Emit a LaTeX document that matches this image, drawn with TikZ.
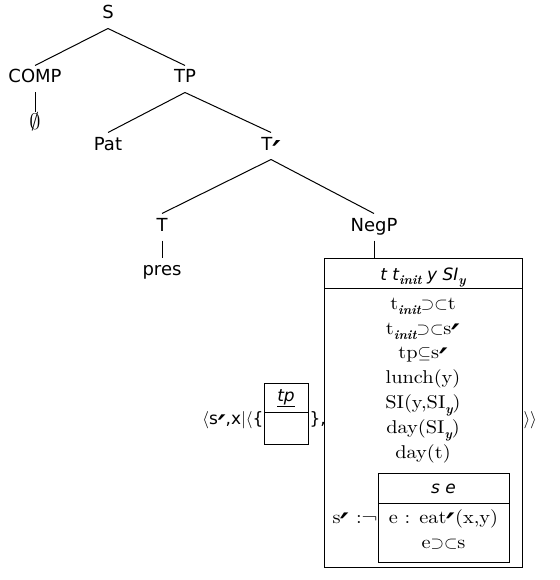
\documentclass[tikz,border=0pt]{standalone}
\usepackage{fontspec}
\usepackage{graphicx}
\setsansfont{DejaVu Sans}
\newfontfamily\drsfont{lmroman10-regular.otf}[FakeStretch=1.1]
\newcommand\pr{\raisebox{-0.74em}[0.55em][0pt]{\scalebox{1.75}{\sffamily\bfseries\itshape ′}}}
\newcommand\sbs[1]{\raisebox{-0.28em}[0.5em][0pt]{\fontsize{13}{13}\rmfamily\bfseries\itshape\selectfont #1}}
\begin{document}
\begin{tikzpicture}[x=1pt,y=-1pt,line width=1pt,
  tn/.style={font=\sffamily\fontsize{18}{20}\selectfont, anchor=base, inner sep=0pt, text height=17pt, text depth=9pt},
  cond/.style={font=\drsfont\fontsize{18.5}{20}\selectfont, anchor=base, inner sep=0pt},
  hdr/.style={font=\sffamily\itshape\fontsize{17}{20}\selectfont, anchor=base, inner sep=0pt},
  side/.style={font=\sffamily\fontsize{17}{20}\selectfont, inner sep=0pt},
  box/.style={draw, anchor=north west, inner sep=0pt}]
\useasboundingbox (0,0) rectangle (559,580);
% tree
\node[tn] (S) at (108,19) {S};
\node[tn] (COMP) at (35,83) {COMP};
\node[tn] (TP) at (185,83) {TP};
\node[tn] (empty) at (35,130) {\scalebox{1.3}{$\emptyset$}};
\node[tn] (Pat) at (108,150) {Pat};
\node[tn] (Tb) at (271,150) {T\pr};
\node[tn] (T) at (162,231) {T};
\node[tn] (pres) at (162,275) {pres};
\node[tn] (NegP) at (374,231) {NegP};
\draw (S.south) -- (COMP.north);
\draw (S.south) -- (TP.north);
\draw (COMP.south) -- (empty.north);
\draw (TP.south) -- (Pat.north);
\draw (TP.south) -- (Tb.north);
\draw (Tb.south) -- (T.north);
\draw (Tb.south) -- (NegP.north);
\draw (T.south) -- (pres.north);
% main DRS
\node[box, minimum width=198pt, minimum height=309pt] (drs) at (324,258) {};
\draw (NegP.south) -- (NegP.south |- drs.north);
\coordinate (drsSep) at (0,288);
\draw (drs.west |- drsSep) -- (drs.east |- drsSep);
\node[hdr] (drsH) at (423,280) {t t\sbs{init} y SI\sbs{y}};
\node[cond] (c1) at (423,309) {t\sbs{init}$\supset\subset$t};
\node[cond] (c2) at (423,334) {t\sbs{init}$\supset\subset$s\pr};
\node[cond] (c3) at (423,358) {tp$\subseteq$s\pr};
\node[cond] (c4) at (423,383) {lunch(y)};
\node[cond] (c5) at (423,408) {SI(y,SI\sbs{y})};
\node[cond] (c6) at (423,433) {day(SI\sbs{y})};
\node[cond] (c7) at (423,458) {day(t)};
% inner DRS
\node[box, minimum width=131pt, minimum height=89pt] (inner) at (378,473) {};
\coordinate (innerSep) at (0,503);
\draw (inner.west |- innerSep) -- (inner.east |- innerSep);
\node[hdr] (innerH) at (443.5,493) {s e};
\node[cond] (i1) at (443.5,523) {e : eat\pr(x,y)};
\node[cond] (i2) at (443.5,548) {e$\supset\subset$s};
\node[cond, anchor=base east] (neg) at (inner.west |- i1.base) {s\pr{} :¬};
% small tp box
\node[box, minimum width=44pt, minimum height=61pt] (tpbox) at (264,383) {};
\coordinate (tpSep) at (0,412);
\draw (tpbox.west |- tpSep) -- (tpbox.east |- tpSep);
\node[hdr] (tpH) at (286,401) {\underline{tp}};
\node[side, anchor=base east] (lft) at (tpbox.west |- 0,424) {$\langle$s\pr,x$|\langle$\{};
\node[side, anchor=base west] (mid) at (tpbox.east |- 0,424) {\},};
\node[side, anchor=base west] (rgt) at (drs.east |- 0,424) {$\rangle\rangle$};
\end{tikzpicture}
\end{document}
